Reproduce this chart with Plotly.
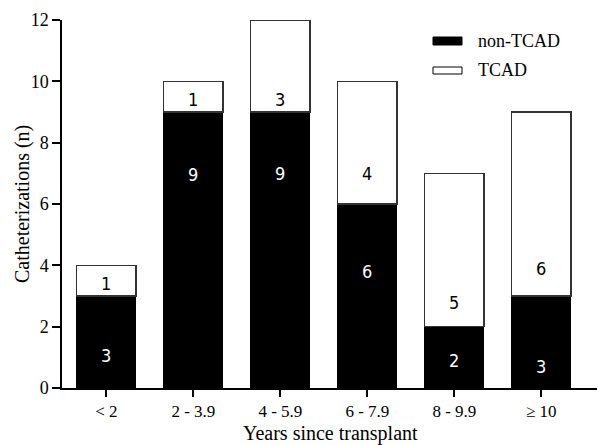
import plotly.graph_objects as go

categories = ["< 2", "2 - 3.9", "4 - 5.9", "6 - 7.9", "8 - 9.9", "\u2265 10"]
non_tcad = [3, 9, 9, 6, 2, 3]
tcad = [1, 1, 3, 4, 5, 6]

# label placement (as drawn in the original figure)
non_label_y = [1.07, 6.95, 7.0, 3.8, 0.9, 0.7]
tcad_label_y = [3.42, 9.4, 9.4, 7.0, 2.78, 3.9]

SERIF = "Liberation Serif"
NARROW = "DejaVu Sans Condensed"

W, H = 597, 445
L, R, T, B = 62, 0, 20, 57
PW, PH = W - L - R, H - T - B

def px(x):
    return (x - L) / PW
def py(y):
    return (H - B - y) / PH

fig = go.Figure()
fig.add_trace(go.Bar(x=categories, y=non_tcad, name="non-TCAD", width=0.68,
                     marker=dict(color="black", line=dict(color="black", width=1)),
                     showlegend=False))
fig.add_trace(go.Bar(x=categories, y=tcad, name="TCAD", width=0.68,
                     marker=dict(color="white", line=dict(color="#333333", width=1.2)),
                     showlegend=False))

annotations = []
for i, c in enumerate(categories):
    annotations.append(dict(x=c, y=non_label_y[i], text=str(non_tcad[i]), showarrow=False,
                            font=dict(family=NARROW, size=18, color="white"), xref="x", yref="y"))
    annotations.append(dict(x=c, y=tcad_label_y[i], text=str(tcad[i]), showarrow=False,
                            font=dict(family=NARROW, size=18, color="black"), xref="x", yref="y"))

# legend (drawn manually to match the wide flat swatches)
shapes = [
    dict(type="rect", xref="paper", yref="paper", x0=px(433), x1=px(462), y0=py(45), y1=py(37),
         fillcolor="black", line=dict(color="black", width=1), layer="above"),
    dict(type="rect", xref="paper", yref="paper", x0=px(433), x1=px(462), y0=py(74), y1=py(67),
         fillcolor="white", line=dict(color="black", width=1), layer="above"),
]
annotations.append(dict(xref="paper", yref="paper", x=px(476), y=py(41), text="non-TCAD",
                        showarrow=False, xanchor="left", yanchor="middle",
                        font=dict(family=SERIF, size=18, color="black")))
annotations.append(dict(xref="paper", yref="paper", x=px(476), y=py(70), text="TCAD",
                        showarrow=False, xanchor="left", yanchor="middle",
                        font=dict(family=SERIF, size=18, color="black")))
# axis titles
annotations.append(dict(xref="paper", yref="paper", x=px(330), y=py(433), text="Years since transplant",
                        showarrow=False, xanchor="center", yanchor="middle",
                        font=dict(family=SERIF, size=20, color="black")))
annotations.append(dict(xref="paper", yref="paper", x=px(22), y=py(204), text="Catheterizations (n)",
                        showarrow=False, xanchor="center", yanchor="middle", textangle=-90,
                        font=dict(family=SERIF, size=20, color="black")))

fig.update_layout(
    barmode="stack",
    width=W, height=H,
    margin=dict(l=L, r=R, t=T, b=B),
    paper_bgcolor="white", plot_bgcolor="white",
    annotations=annotations,
    shapes=shapes,
    showlegend=False,
    font=dict(family=SERIF, color="black"),
)
fig.update_xaxes(
    range=[-0.51, 5.64],
    showline=True, linecolor="black", linewidth=1.5,
    ticks="outside", ticklen=7, tickwidth=1.5, tickcolor="black",
    tickfont=dict(family=SERIF, size=17, color="black"),
    showgrid=False, zeroline=False, automargin=False,
)
fig.update_yaxes(
    range=[0, 12], tickvals=[0, 2, 4, 6, 8, 10, 12],
    showline=True, linecolor="black", linewidth=1.5,
    ticks="outside", ticklen=8, tickwidth=1.5, tickcolor="black",
    tickfont=dict(family=SERIF, size=18, color="black"),
    showgrid=False, zeroline=False, automargin=False,
)

fig.write_html("out.html", config={"displayModeBar": False},
               post_script="document.body.style.margin='0px';document.body.style.overflow='hidden';")
